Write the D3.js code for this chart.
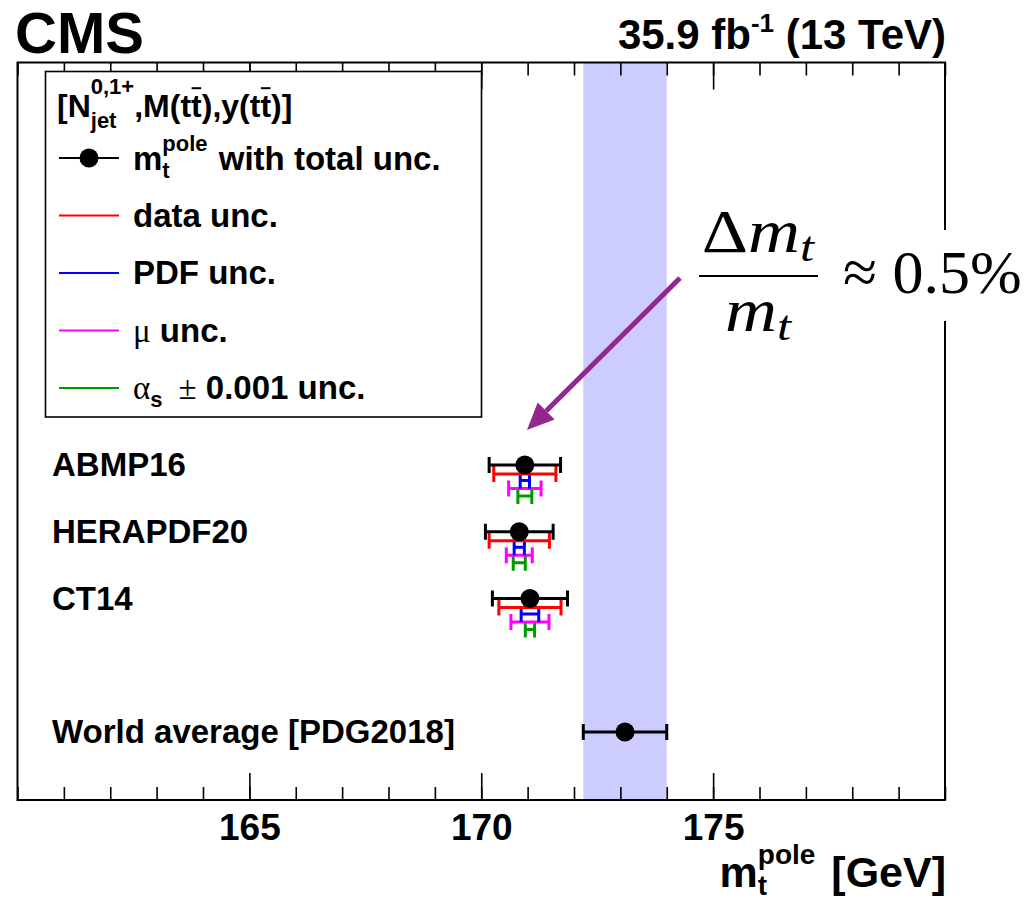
<!DOCTYPE html>
<html>
<head>
<meta charset="utf-8">
<script src="https://cdn.jsdelivr.net/npm/d3@7/dist/d3.min.js"></script>
<style>
  html, body { margin: 0; padding: 0; background: #fff; }
  svg { display: block; }
  text { white-space: pre; }
</style>
</head>
<body>
<svg id="chart" width="1025" height="901"></svg>
<script>
// ---------------- data ----------------
const pdfSets   = ["ABMP16", "HERAPDF20", "CT14"];
const mtCentral = [170.94, 170.82, 171.05];
const totalUnc  = [0.77, 0.73, 0.81];
const dataUnc   = [0.67, 0.65, 0.67];
const pdfUnc    = [0.10, 0.11, 0.19];
const muUnc     = [0.35, 0.28, 0.41];
const alphasUnc = [0.15, 0.13, 0.10];
const rowIndex  = [0, 1, 2];

const worldLabel = "World average [PDG2018]";
const worldAvg   = 173.1;
const worldUnc   = 0.9;
const worldRow   = 4;

const xDomain    = [160, 180];
const majorTicks = [165, 170, 175];
const minorTicks = d3.range(160, 181, 1);

const uncNames  = ["total", "data", "PDF", "mu", "alphas"];
const uncColors = ["#000000", "#ff0000", "#0000ff", "#ff00ff", "#009900"];

// ---------------- layout ----------------
const SANS = "'Liberation Sans', Arial, Helvetica, sans-serif";
const SERIF = "'Liberation Serif', 'DejaVu Serif', serif";
const svg = d3.select("#chart");
const L = 17.5, R = 945, T = 62.5, B = 800;

const x = d3.scaleLinear().domain(xDomain).range([L, R]);
const y = d3.scaleLinear().domain([0, 4]).range([465, 732]);

// rich text helper
function rich(parent, px, py, parts, anchor, sx0) {
  const sxf = sx0 || 1;
  const g = parent.append("g");
  let cx = 0, lastStart = 0;
  parts.forEach(p => {
    const sx = p.stack ? lastStart : cx + (p.dx || 0);
    const t = g.append("text")
      .attr("x", sx).attr("y", p.dy || 0)
      .attr("font-family", p.f || SANS)
      .attr("font-weight", p.w || "bold")
      .attr("font-style", p.i ? "italic" : "normal")
      .attr("font-size", p.s)
      .attr("fill", "#000")
      .text(p.t);
    const w = t.node().getComputedTextLength();
    if (p.over) {
      g.append("line").attr("x1", sx + w * 0.05).attr("x2", sx + w * 0.95)
        .attr("y1", -p.s * 0.9).attr("y2", -p.s * 0.9)
        .attr("stroke", "#000").attr("stroke-width", 2);
    }
    if (p.stack) cx = Math.max(cx, sx + w);
    else { lastStart = sx; cx = sx + w; }
  });
  const off = anchor === "end" ? -cx : anchor === "middle" ? -cx / 2 : 0;
  g.attr("transform", `translate(${px + off * sxf},${py}) scale(${sxf},1)`);
  return g;
}

// ---------------- band (PDG) ----------------
svg.append("rect")
  .attr("x", x(worldAvg - worldUnc)).attr("y", T)
  .attr("width", x(worldAvg + worldUnc) - x(worldAvg - worldUnc))
  .attr("height", B - T)
  .attr("fill", "#ccccff");

// ---------------- axes ticks ----------------
function styleAxis(g) {
  g.select(".domain").remove();
  g.selectAll(".tick line").attr("stroke", "#000").attr("stroke-width", 1.6);
}
svg.append("g").attr("transform", `translate(0,${B})`)
  .call(d3.axisBottom(x).tickValues(minorTicks).tickSizeInner(-13).tickSizeOuter(0).tickFormat(""))
  .call(styleAxis);
svg.append("g").attr("transform", `translate(0,${B})`)
  .call(d3.axisBottom(x).tickValues(majorTicks).tickSizeInner(-27).tickSizeOuter(0)
        .tickPadding(14).tickFormat(d3.format("d")))
  .call(styleAxis)
  .call(g => g.selectAll(".tick text")
    .attr("font-family", SANS).attr("font-weight", "bold")
    .attr("font-size", 37).attr("fill", "#000"));
svg.append("g").attr("transform", `translate(0,${T})`)
  .call(d3.axisTop(x).tickValues(minorTicks).tickSizeInner(-13).tickSizeOuter(0).tickFormat(""))
  .call(styleAxis);
svg.append("g").attr("transform", `translate(0,${T})`)
  .call(d3.axisTop(x).tickValues(majorTicks).tickSizeInner(-27).tickSizeOuter(0).tickFormat(""))
  .call(styleAxis);

// frame
svg.append("rect").attr("x", L).attr("y", T).attr("width", R - L).attr("height", B - T)
  .attr("fill", "none").attr("stroke", "#000").attr("stroke-width", 2);

// ---------------- legend ----------------
const lg = svg.append("g");
lg.append("rect").attr("x", 45.5).attr("y", 71.5).attr("width", 436).attr("height", 345.5)
  .attr("fill", "#fff").attr("stroke", "#000").attr("stroke-width", 1.6);

rich(lg, 57, 117, [
  { t: "[N", s: 32 },
  { t: "0,1+", s: 22, dy: -23 },
  { t: "jet", s: 22, dy: 11, stack: true },
  { t: ",M(t", s: 32 },
  { t: "t", s: 32, over: true },
  { t: "),y(t", s: 32 },
  { t: "t", s: 32, over: true },
  { t: ")]", s: 32 }
]);

const legY = [158, 215.5, 273, 330.5, 388];
legY.forEach((ly, i) => {
  lg.append("line").attr("x1", 59).attr("x2", 119).attr("y1", ly).attr("y2", ly)
    .attr("stroke", uncColors[i]).attr("stroke-width", 2);
});
lg.append("circle").attr("cx", 89).attr("cy", legY[0]).attr("r", 9.5).attr("fill", "#000");

rich(lg, 133, legY[0] + 12, [
  { t: "m", s: 33 },
  { t: "t", s: 22, dy: 8 },
  { t: "pole", s: 22, dy: -19, stack: true },
  { t: " with total unc.", s: 33, dx: 2 }
]);
rich(lg, 133, legY[1] + 11, [{ t: "data unc.", s: 33 }]);
rich(lg, 133, legY[2] + 11, [{ t: "PDF unc.", s: 33 }]);
rich(lg, 133, legY[3] + 11, [
  { t: "\u03bc", s: 33, f: SERIF, w: "normal" },
  { t: " unc.", s: 33 }
]);
rich(lg, 133, legY[4] + 11, [
  { t: "\u03b1", s: 33, f: SERIF, w: "normal" },
  { t: "s", s: 22, dy: 8 },
  { t: "\u00b1", s: 33, f: SERIF, w: "normal", dx: 16 },
  { t: " 0.001 unc.", s: 33 }
]);

// ---------------- measurements ----------------
const offsets = [0, 9, 15.5, 23.5, 31];
const capH = 8;
const uncArrays = [totalUnc, dataUnc, pdfUnc, muUnc, alphasUnc];

function errBar(g, c, e, yy, color) {
  g.append("line").attr("x1", x(c - e)).attr("x2", x(c + e)).attr("y1", yy).attr("y2", yy)
    .attr("stroke", color).attr("stroke-width", 3);
  [c - e, c + e].forEach(v => {
    g.append("line").attr("x1", x(v)).attr("x2", x(v)).attr("y1", yy - capH).attr("y2", yy + capH)
      .attr("stroke", color).attr("stroke-width", 3);
  });
}

const mg = svg.append("g");
pdfSets.forEach((name, i) => {
  const yy = y(rowIndex[i]);
  for (let k = uncArrays.length - 1; k >= 0; k--) {
    errBar(mg, mtCentral[i], uncArrays[k][i], yy + offsets[k], uncColors[k]);
  }
  mg.append("circle").attr("cx", x(mtCentral[i])).attr("cy", yy).attr("r", 9.5).attr("fill", "#000");
  mg.append("text").attr("x", 52).attr("y", yy + 11)
    .attr("font-family", SANS).attr("font-weight", "bold").attr("font-size", 33)
    .text(name);
});
errBar(mg, worldAvg, worldUnc, y(worldRow), "#000");
mg.append("circle").attr("cx", x(worldAvg)).attr("cy", y(worldRow)).attr("r", 9.5).attr("fill", "#000");
mg.append("text").attr("x", 52).attr("y", y(worldRow) + 11)
  .attr("font-family", SANS).attr("font-weight", "bold").attr("font-size", 33)
  .text(worldLabel);

// ---------------- annotation ----------------
svg.append("rect").attr("x", 688).attr("y", 230).attr("width", 337).attr("height", 91).attr("fill", "#fff");

const ax0 = 680, ay0 = 278, ax1 = 527, ay1 = 430;
const ang = Math.atan2(ay1 - ay0, ax1 - ax0);
const hl = 27, hw = 12;
const bx = ax1 - hl * Math.cos(ang), by = ay1 - hl * Math.sin(ang);
svg.append("line").attr("x1", ax0).attr("y1", ay0).attr("x2", bx).attr("y2", by)
  .attr("stroke", "#93278f").attr("stroke-width", 5);
svg.append("path")
  .attr("d", `M${ax1},${ay1} L${bx + hw * Math.sin(ang)},${by - hw * Math.cos(ang)} L${bx - hw * Math.sin(ang)},${by + hw * Math.cos(ang)} Z`)
  .attr("fill", "#93278f");

const fs = 61;
rich(svg, 758, 252, [
  { t: "\u0394", s: fs, f: SERIF, w: "normal" },
  { t: "m", s: fs, f: SERIF, w: "normal", i: true },
  { t: "t", s: 43, f: SERIF, w: "normal", i: true, dy: 9 }
], "middle", 1.18);
svg.append("line").attr("x1", 699).attr("x2", 818).attr("y1", 276).attr("y2", 276)
  .attr("stroke", "#000").attr("stroke-width", 2);
rich(svg, 758, 331, [
  { t: "m", s: fs, f: SERIF, w: "normal", i: true },
  { t: "t", s: 43, f: SERIF, w: "normal", i: true, dy: 9 }
], "middle", 1.18);
rich(svg, 843, 293, [
  { t: "\u2248 0.5%", s: 62, f: SERIF, w: "normal" }
]);

// ---------------- titles ----------------
svg.append("text").attr("x", 15).attr("y", 53)
  .attr("font-family", SANS).attr("font-weight", "bold").attr("font-size", 58).text("CMS");
rich(svg, 946, 49, [
  { t: "35.9 fb", s: 42 },
  { t: "-1", s: 26, dy: -17 },
  { t: " (13 TeV)", s: 42 }
], "end");
rich(svg, 946, 887, [
  { t: "m", s: 43 },
  { t: "t", s: 28, dy: 8 },
  { t: "pole", s: 28, dy: -23, stack: true },
  { t: " [GeV]", s: 43, dx: 4 }
], "end");
</script>
</body>
</html>
